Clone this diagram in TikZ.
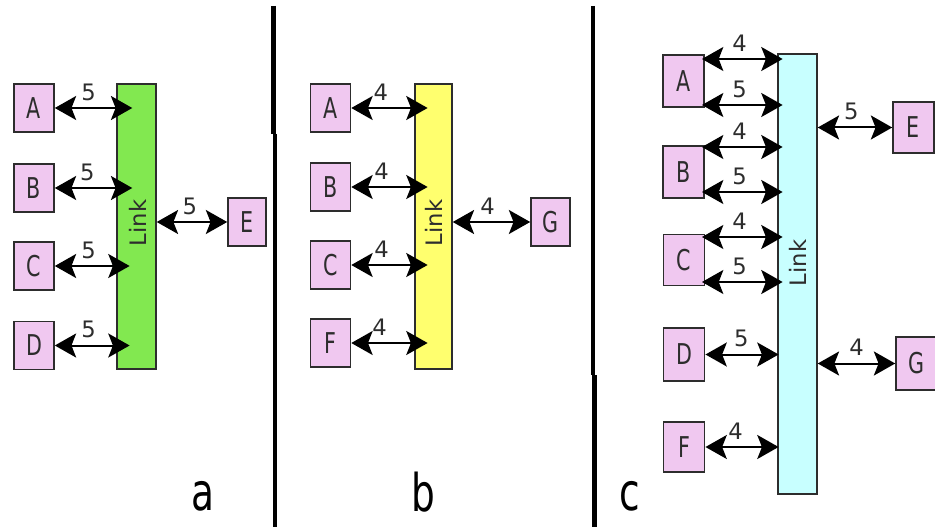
\documentclass[tikz,border=0pt]{standalone}
\usepackage{fontspec}
\setmainfont{DejaVu Sans}
\newfontfamily\narrowfont[FakeStretch=0.72]{DejaVu Sans}
\newfontfamily\bigfont[FakeStretch=0.72]{DejaVu Sans}
\usetikzlibrary{arrows.meta}
\definecolor{boxpink}{RGB}{240,200,240}
\definecolor{bargreen}{RGB}{130,232,80}
\definecolor{baryellow}{RGB}{255,255,110}
\definecolor{barcyan}{RGB}{200,255,255}
\definecolor{edge}{RGB}{45,45,45}
\begin{document}
\begin{tikzpicture}[x=0.75pt,y=-0.75pt,
  box/.style={draw=edge, line width=1.2pt, fill=boxpink, inner sep=0,
    minimum width=30pt, minimum height=36pt, text=edge,
    font=\narrowfont\fontsize{21.5}{21.5}\selectfont},
  bar/.style={draw=edge, line width=1.1pt, inner sep=0},
  arr/.style={line width=1.5pt,
    {Stealth[length=16pt,width=18pt,inset=3.5pt]}-{Stealth[length=16pt,width=18pt,inset=3.5pt]}},
  lbl/.style={inner sep=0, text=edge, font=\fontsize{17}{17}\selectfont},
  linktext/.style={rotate=90, inner sep=0, text=edge, font=\fontsize{17}{17}\selectfont},
  divider/.style={line width=3.6pt},
  panel/.style={anchor=base, inner sep=0, font=\bigfont\fontsize{39}{39}\selectfont}]
\useasboundingbox (0,0) rectangle (935,527);

% dividers
\draw[divider] (273.5,6) -- (273.5,134);
\draw[divider] (275,134) -- (275,527);
\draw[divider] (593,6) -- (593,375);
\draw[divider] (594.5,375) -- (594.5,527);

% ---------- panel a ----------
\node[bar, fill=bargreen, minimum width=29.25pt, minimum height=213.75pt] (La) at (136.5,226.5) {};
\node[linktext] (ta) at (138,223) {Link};
\node[box] (aA) at (34,108) {A};
\node[box] (aB) at (34,188) {B};
\node[box] (aC) at (34,266) {C};
\node[box] (aD) at (34,345.5) {D};
\node[box, minimum width=28.5pt] (aE) at (247,222) {E};
\draw[arr, shorten >=-12pt] (aA.east) -- (aA.east -| La.west) node[lbl, pos=0.55, above=5pt] (la1) {5};
\draw[arr, shorten >=-12pt] (aB.east) -- (aB.east -| La.west) node[lbl, pos=0.53, above=5pt] (la2) {5};
\draw[arr, shorten >=-10pt] (aC.east) -- (aC.east -| La.west) node[lbl, pos=0.55, above=5pt] (la3) {5};
\draw[arr, shorten >=-10pt] (aD.east) -- (aD.east -| La.west) node[lbl, pos=0.55, above=5pt] (la4) {5};
\draw[arr] (aE.west -| La.east) -- (aE.west) node[lbl, pos=0.47, above=5pt] (la5) {5};
\node[panel] (pa) at (202.5,510) {a};

% ---------- panel b ----------
\node[bar, fill=baryellow, minimum width=27.75pt, minimum height=213.75pt] (Lb) at (433.5,226.5) {};
\node[linktext] (tb) at (433.5,223) {Link};
\node[box] (bA) at (330.5,108) {A};
\node[box] (bB) at (330.5,187) {B};
\node[box] (bC) at (330.5,265) {C};
\node[box] (bF) at (330.5,343) {F};
\node[box, minimum width=29.25pt] (bG) at (550.5,222) {G};
\draw[arr, shorten >=-10pt] (bA.east) -- (bA.east -| Lb.west) node[lbl, pos=0.47, above=5pt] (lb1) {4};
\draw[arr, shorten >=-10pt] (bB.east) -- (bB.east -| Lb.west) node[lbl, pos=0.48, above=5pt] (lb2) {4};
\draw[arr, shorten >=-10pt] (bC.east) -- (bC.east -| Lb.west) node[lbl, pos=0.48, above=5pt] (lb3) {4};
\draw[arr, shorten >=-10pt] (bF.east) -- (bF.east -| Lb.west) node[lbl, pos=0.45, above=5pt] (lb4) {4};
\draw[arr] (bG.west -| Lb.east) -- (bG.west) node[lbl, pos=0.45, above=5pt] (lb5) {4};
\node[panel] (pb) at (423.5,511) {b};

% ---------- panel c ----------
\node[bar, fill=barcyan, minimum width=29.25pt, minimum height=330pt] (Lc) at (797.5,274) {};
\node[linktext] (tc) at (798,263) {Link};
\node[box, minimum width=30.75pt, minimum height=39pt] (cA) at (683.5,81) {A};
\node[box, minimum width=30.75pt, minimum height=39pt] (cB) at (683.5,172) {B};
\node[box, minimum width=30.75pt, minimum height=38pt] (cC) at (684,260) {C};
\node[box, minimum width=31pt, minimum height=39.5pt] (cD) at (684,354.5) {D};
\node[box, minimum width=31pt, minimum height=37.5pt] (cF) at (684,447) {F};
\node[box, minimum width=30.75pt, minimum height=38.25pt] (cE) at (913.5,127.5) {E};
\node[box, minimum width=30pt, minimum height=39.75pt] (cG) at (916,363.5) {G};
\coordinate (cA1) at (702,59);
\coordinate (cA2) at (702,105);
\coordinate (cB1) at (702,147);
\coordinate (cB2) at (702,192);
\coordinate (cC1) at (702,237);
\coordinate (cC2) at (702,282);
\draw[arr, shorten >=-4pt] (cA1) -- (cA1 -| Lc.west) node[lbl, midway, above=5pt] (lc1) {4};
\draw[arr, shorten >=-4pt] (cA2) -- (cA2 -| Lc.west) node[lbl, midway, above=5pt] (lc2) {5};
\draw[arr, shorten >=-4pt] (cB1) -- (cB1 -| Lc.west) node[lbl, midway, above=5pt] (lc3) {4};
\draw[arr, shorten >=-4pt] (cB2) -- (cB2 -| Lc.west) node[lbl, midway, above=5pt] (lc4) {5};
\draw[arr, shorten >=-4pt] (cC1) -- (cC1 -| Lc.west) node[lbl, midway, above=5pt] (lc5) {4};
\draw[arr, shorten >=-4pt] (cC2) -- (cC2 -| Lc.west) node[lbl, midway, above=5pt] (lc6) {5};
\draw[arr, shorten >=-1pt] (cD.east) -- (cD.east -| Lc.west) node[lbl, midway, above=5pt] (lc7) {5};
\draw[arr, shorten >=-1pt] (cF.east) -- (cF.east -| Lc.west) node[lbl, pos=0.42, above=5pt] (lc8) {4};
\draw[arr] (cE.west -| Lc.east) -- (cE.west) node[lbl, pos=0.45, above=5pt] (lc9) {5};
\draw[arr] (cG.west -| Lc.east) -- (cG.west) node[lbl, pos=0.5, above=5pt] (lc10) {4};
\node[panel] (pc) at (629.5,510) {c};
\end{tikzpicture}
\end{document}
